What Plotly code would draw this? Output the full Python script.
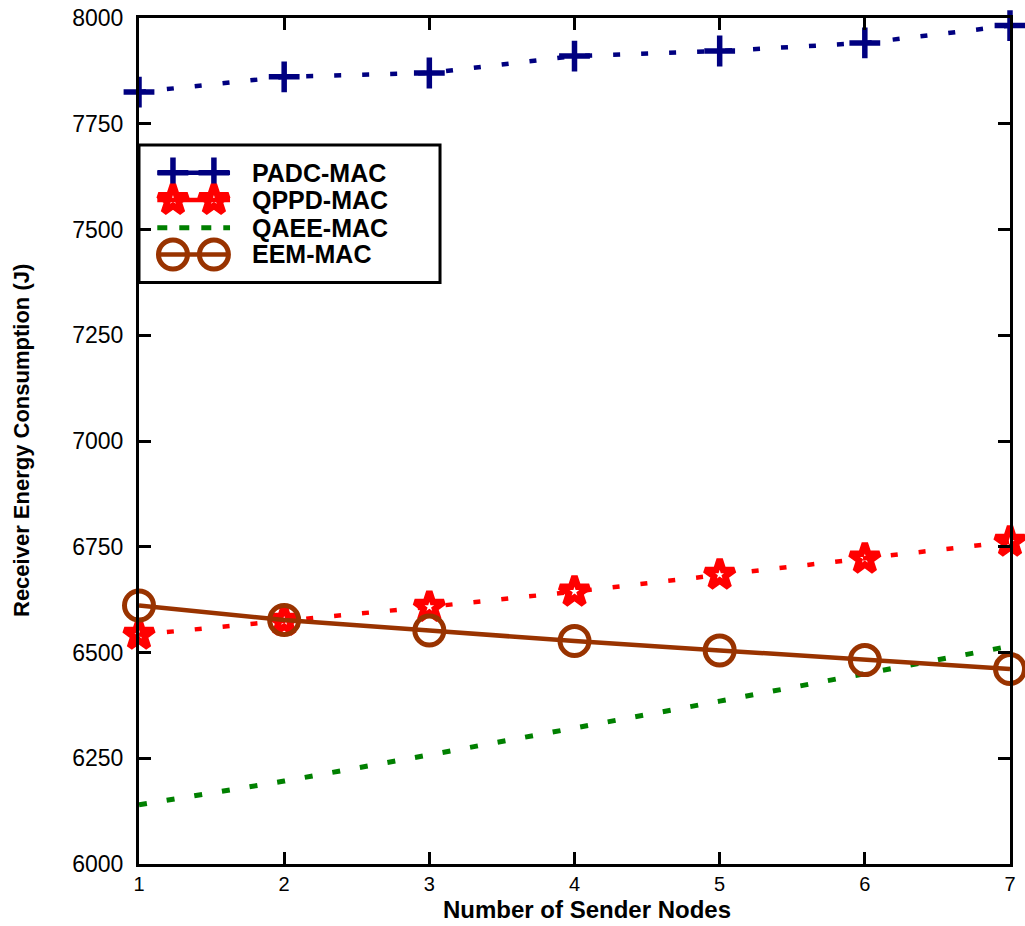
import plotly.graph_objects as go

# Number of sender nodes on the x axis
nodes = [1, 2, 3, 4, 5, 6, 7]

# Receiver energy consumption (J) per protocol
padc_mac = [7825, 7861, 7870, 7910, 7922, 7941, 7982]
qppd_mac = [6542, 6575, 6608, 6644, 6684, 6722, 6762]
qaee_mac = [6140, 6196, 6258, 6320, 6385, 6450, 6515]
eem_mac = [6611, 6577, 6552, 6527, 6505, 6482, 6461]

series_names = ["PADC-MAC", "QPPD-MAC", "QAEE-MAC", "EEM-MAC"]
y_ticks = [6000, 6250, 6500, 6750, 7000, 7250, 7500, 7750, 8000]

NAVY = "#000080"
RED = "#ff0000"
GREEN = "#008000"
BROWN = "#993300"
FONT = "Liberation Sans, Arial, sans-serif"

styles = [
    dict(color=NAVY, dash="7px,21px", width=4.5, symbol="cross-thin-open", msize=22, mline=5.5),
    dict(color=RED, dash="7px,21px", width=4.5, symbol="star-open", msize=22, mline=6.5),
    dict(color=GREEN, dash="8px,20px", width=5, symbol=None, msize=0, mline=0),
    dict(color=BROWN, dash="solid", width=4.5, symbol="circle-open", msize=29, mline=5),
]
values = [padc_mac, qppd_mac, qaee_mac, eem_mac]

fig = go.Figure()

for name, vals, st in zip(series_names, values, styles):
    mode = "lines+markers" if st["symbol"] else "lines"
    fig.add_trace(go.Scatter(
        x=nodes, y=vals, name=name, mode=mode,
        line=dict(color=st["color"], dash=st["dash"], width=st["width"]),
        marker=dict(symbol=st["symbol"] or "circle", size=st["msize"],
                    color=st["color"], line=dict(color=st["color"], width=st["mline"])),
        cliponaxis=False, showlegend=False,
    ))

# Key box drawn on an overlay axis spanning the plot area (0..1 in both directions)
key_rows = [0.817, 0.785, 0.752, 0.7205]
key_line_x = [0.021, 0.1045]
key_marker_x = [0.039, 0.086]
key_dashes = ["7px,21px", "7px,21px", "10px,12px", "solid"]
for name, st, ky, kd in zip(series_names, styles, key_rows, key_dashes):
    fig.add_trace(go.Scatter(
        x=key_line_x, y=[ky, ky], mode="lines", xaxis="x2", yaxis="y2",
        line=dict(color=st["color"], width=st["width"], dash="solid" if st["symbol"] else kd),
        showlegend=False, hoverinfo="skip", cliponaxis=False,
    ))
    if st["symbol"]:
        fig.add_trace(go.Scatter(
            x=key_marker_x, y=[ky, ky], mode="markers", xaxis="x2", yaxis="y2",
            marker=dict(symbol=st["symbol"], size=st["msize"], color=st["color"],
                        line=dict(color=st["color"], width=st["mline"])),
            showlegend=False, hoverinfo="skip", cliponaxis=False,
        ))
    fig.add_annotation(
        x=0.127, y=ky, xref="x2", yref="y2", text=f"<b>{name}</b>", showarrow=False,
        xanchor="left", yanchor="middle", font=dict(family=FONT, size=25, color="black"),
    )

fig.add_shape(type="rect", xref="x2", yref="y2", x0=0, x1=0.3456, y0=0.6875, y1=0.850,
              line=dict(color="black", width=3), fillcolor="white", layer="below")

# Axis titles placed in paper coordinates
fig.add_annotation(
    x=0.5, y=0, xref="paper", yref="paper", yshift=-61, xshift=12,
    text="<b>Number of Sender Nodes</b>", showarrow=False,
    xanchor="center", yanchor="bottom", font=dict(family=FONT, size=24, color="black"),
)
fig.add_annotation(
    x=0, y=0.5, xref="paper", yref="paper", xshift=-118,
    text="<b>Receiver Energy Consumption (J)</b>", showarrow=False, textangle=-90,
    xanchor="center", yanchor="middle", font=dict(family=FONT, size=22, color="black"),
)

axis_common = dict(
    showline=True, linecolor="black", linewidth=3, mirror="ticks",
    ticks="inside", ticklen=12, tickwidth=2.5, tickcolor="black",
    showgrid=False, zeroline=False, automargin=False,
)

fig.update_layout(
    width=1025, height=926,
    margin=dict(l=139, r=15, t=18, b=62),
    paper_bgcolor="white", plot_bgcolor="white",
    xaxis=dict(range=[1, 7], tickvals=nodes, ticklabelstandoff=0,
               tickfont=dict(family=FONT, size=20, color="black"), **axis_common),
    yaxis=dict(range=[6000, 8000], tickvals=y_ticks, ticklabelstandoff=8,
               tickfont=dict(family=FONT, size=23, color="black"), **axis_common),
    xaxis2=dict(range=[0, 1], overlaying="x", visible=False, fixedrange=True),
    yaxis2=dict(range=[0, 1], overlaying="y", visible=False, fixedrange=True),
    showlegend=False,
)

fig.write_html("out.html")
